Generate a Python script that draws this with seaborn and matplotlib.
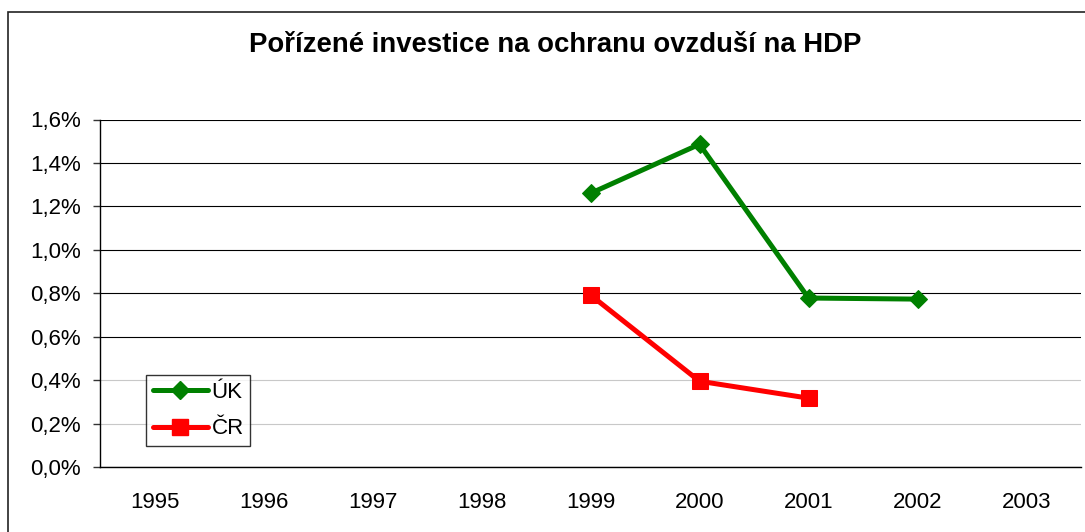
import matplotlib
matplotlib.use('Agg')
import matplotlib.pyplot as plt
import matplotlib.ticker as mticker
from matplotlib.patches import Rectangle
from matplotlib.lines import Line2D
import numpy as np
import pandas as pd
import seaborn as sns

# ── Data ───────────────────────────────────────────────────────────────────
years = ['1995', '1996', '1997', '1998', '1999', '2000', '2001', '2002', '2003']
uk_values = [None, None, None, None, 0.0126, 0.01486, 0.00778, 0.00773, None]
cr_values = [None, None, None, None, 0.00792, 0.00395, 0.00317, None, None]
y_ticks = [0.0, 0.002, 0.004, 0.006, 0.008, 0.010, 0.012, 0.014, 0.016]

TITLE = 'Pořízené investice na ochranu ovzduší na HDP'
UK_COLOR = '#008000'
CR_COLOR = '#FF0000'

sns.set_style('white')
plt.rcParams['font.family'] = ['Liberation Sans', 'DejaVu Sans']
plt.rcParams['text.color'] = 'black'
plt.rcParams['xtick.color'] = 'black'
plt.rcParams['ytick.color'] = 'black'

df = pd.DataFrame({'pos': np.arange(len(years)), 'year': years,
                   'ÚK': uk_values, 'ČR': cr_values})

fig = plt.figure(figsize=(10.85, 5.32), dpi=100)
ax = fig.add_axes([100 / 1085, 65 / 532, 981 / 1085, 347.5 / 532])

# 1. Series
uk = df.dropna(subset=['ÚK'])
cr = df.dropna(subset=['ČR'])
sns.lineplot(data=uk, x='pos', y='ÚK', ax=ax, color=UK_COLOR, lw=3.6,
             marker='D', markersize=9.5, markeredgecolor=UK_COLOR, zorder=4)
sns.lineplot(data=cr, x='pos', y='ČR', ax=ax, color=CR_COLOR, lw=3.6,
             marker='s', markersize=12, markeredgecolor=CR_COLOR, zorder=4)

# 2. Axes
ax.set_xlim(-0.5, len(years) - 0.5)
ax.set_ylim(y_ticks[0], y_ticks[-1])
ax.set_xlabel('')
ax.set_ylabel('')
ax.set_yticks(y_ticks)
ax.yaxis.set_major_formatter(mticker.FuncFormatter(
    lambda v, p: f'{v * 100:.1f}%'.replace('.', ',')))
ax.set_xticks(np.arange(len(years) + 1) - 0.5)
ax.set_xticklabels([])
ax.set_xticks(np.arange(len(years)), minor=True)
ax.set_xticklabels(years, minor=True)
ax.tick_params(axis='x', which='major', direction='out', length=5, width=1, color='#333333')
ax.tick_params(axis='x', which='minor', length=0, pad=18, labelsize=16, labelcolor='black')
ax.tick_params(axis='y', direction='out', length=5, width=1, color='#333333',
               pad=9, labelsize=16, labelcolor='black', left=True)

for side in ['top', 'right']:
    ax.spines[side].set_visible(False)
for side in ['left', 'bottom']:
    ax.spines[side].set_color('black')
    ax.spines[side].set_linewidth(1)

ax.yaxis.grid(True, color='black', lw=0.8)
ax.xaxis.grid(False)
for gl, v in zip(ax.get_ygridlines(), y_ticks):
    if v in (0.002, 0.004):
        gl.set_color('#c8c8c8')

# 3. Legend
handles = [
    Line2D([], [], color=UK_COLOR, lw=3.6, marker='D', markersize=9.5),
    Line2D([], [], color=CR_COLOR, lw=3.6, marker='s', markersize=12),
]
leg = ax.legend(handles, ['ÚK', 'ČR'], loc='lower left',
                bbox_to_anchor=(46 / 981, 21 / 347.5), fontsize=16,
                frameon=True, fancybox=False, edgecolor='black',
                handlelength=2.5, handletextpad=0.15, borderpad=0.3,
                labelspacing=0.7, borderaxespad=0)
leg.get_frame().set_linewidth(1)
for t in leg.get_texts():
    t.set_color('black')

# 4. Title and outer border
fig.text(555 / 1085, 1 - 45 / 532, TITLE, ha='center', va='center',
         fontsize=19.8, fontweight='bold', color='black')
fig.patches.append(Rectangle((8 / 1085, -0.1), 1.2, 1 - 12 / 532 + 0.1,
                             transform=fig.transFigure, fill=False,
                             edgecolor='#222222', lw=1.2, clip_on=False))

fig.savefig('out.png', dpi=100, facecolor='white')
plt.close(fig)
